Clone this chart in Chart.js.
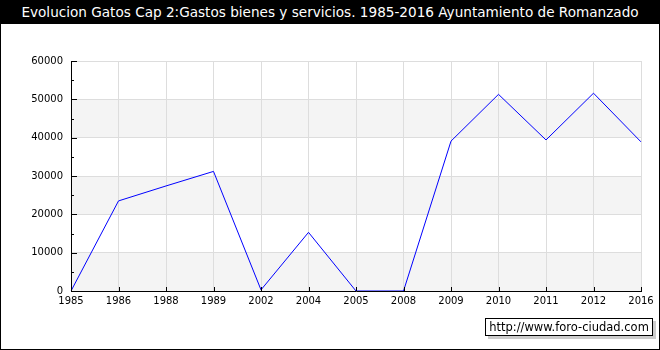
<!DOCTYPE html>
<html lang="es">
<head>
<meta charset="UTF-8">
<title>Evolucion Gatos Cap 2</title>
<script src="https://cdn.jsdelivr.net/npm/chart.js"></script>
<style>
  body { margin: 0; background: #fff; }
  #marco { position: relative; width: 660px; height: 350px; box-sizing: border-box; border: 1px solid #000; overflow: hidden; }
  #titulo { position: absolute; left: 0; top: 0; width: 100%; height: 23px; background: #000; color: #fff;
            font: 13.6px "DejaVu Sans", sans-serif; text-align: center; line-height: 23px; white-space: nowrap; }
  #lienzo { position: absolute; left: 0; top: 0; width: 660px; height: 350px; }
  #marca { position: absolute; left: 484px; top: 317px; width: 166px; height: 16px; border: 1px solid #000; background: #fff;
           font: 11.5px "DejaVu Sans", sans-serif; line-height: 16px; text-align: center; box-shadow: 3px 3px 0 #ccc; }
</style>
</head>
<body>
<div id="marco">
  <canvas id="lienzo" width="660" height="350"></canvas>
  <div id="titulo">Evolucion Gatos Cap 2:Gastos bienes y servicios. 1985-2016 Ayuntamiento de Romanzado</div>
  <div id="marca">http://www.foro-ciudad.com</div>
</div>
<script>
const anios = ['1985', '1986', '1988', '1989', '2002', '2004', '2005', '2008', '2009', '2010', '2011', '2012', '2016'];
const gastos = [0, 23500, 27400, 31200, 300, 15300, 0, 0, 39100, 51300, 39400, 51600, 38900];
const marcasY = [0, 10000, 20000, 30000, 40000, 50000, 60000];

// bandas grises alternas y marcas del eje
const fondo = {
  id: 'fondo',
  beforeDraw(chart) {
    const { ctx, chartArea: a, scales: { y } } = chart;
    ctx.save();
    ctx.fillStyle = '#f4f4f4';
    for (let v = 0; v < 60000; v += 20000) {
      const t = y.getPixelForValue(v + 10000), b = y.getPixelForValue(v);
      ctx.fillRect(a.left, t, a.right - a.left, b - t);
    }
    ctx.restore();
  },
  afterDraw(chart) {
    const { ctx, chartArea: a, scales: { x, y } } = chart;
    ctx.save();
    ctx.strokeStyle = '#000';
    ctx.lineWidth = 1;
    ctx.beginPath();
    for (let v = 0; v <= 60000; v += 5000) {
      const py = Math.round(y.getPixelForValue(v)) + 0.5;
      ctx.moveTo(a.left, py);
      ctx.lineTo(a.left + (v % 10000 === 0 ? 6 : 3), py);
    }
    anios.forEach((_, i) => {
      const px = Math.round(x.getPixelForValue(i)) + 0.5;
      ctx.moveTo(px, a.bottom);
      ctx.lineTo(px, a.bottom - 4);
    });
    ctx.stroke();
    ctx.restore();
  }
};

new Chart(document.getElementById('lienzo'), {
  type: 'line',
  data: {
    labels: anios,
    datasets: [{
      data: gastos,
      borderColor: '#0000ff',
      borderWidth: 1,
      pointRadius: 0,
      tension: 0,
      fill: false
    }]
  },
  options: {
    responsive: false,
    animation: false,
    layout: { padding: { top: 60, right: 20, left: 0, bottom: 0 } },
    plugins: { legend: { display: false }, tooltip: { enabled: false } },
    scales: {
      x: {
        grid: { color: '#dddddd', drawTicks: false },
        border: { color: '#000', width: 1 },
        ticks: { color: '#000', font: { family: 'DejaVu Sans', size: 10 }, padding: 4, maxRotation: 0, autoSkip: false },
        afterFit(s) { s.height = 60; }
      },
      y: {
        min: 0,
        max: 60000,
        afterBuildTicks(s) { s.ticks = marcasY.map(v => ({ value: v })); },
        grid: { color: '#dddddd', drawTicks: false },
        border: { color: '#000', width: 1 },
        ticks: { color: '#000', font: { family: 'DejaVu Sans', size: 10 }, padding: 8, callback: v => String(v) },
        afterFit(s) { s.width = 70; }
      }
    }
  },
  plugins: [fondo]
});
</script>
</body>
</html>
